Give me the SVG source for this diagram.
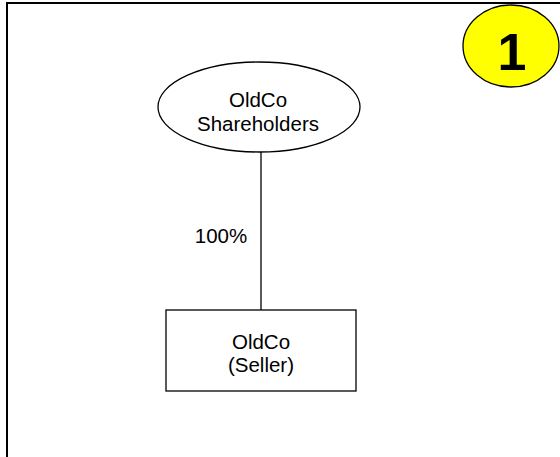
<svg xmlns="http://www.w3.org/2000/svg" width="560" height="457" viewBox="0 0 560 457">
<style>
.t{font-family:"Liberation Sans",Arial,sans-serif;font-size:20.5px;fill:#000;text-anchor:middle}
.s{fill:#fff;stroke:#000;stroke-width:1.3}
</style>
<rect x="0" y="0" width="560" height="457" fill="#fff"/>
<path d="M7,460 V3 H562" fill="none" stroke="#000" stroke-width="2"/>
<g id="badge">
<ellipse cx="511" cy="46" rx="48" ry="41" fill="#ffff00" stroke="#000" stroke-width="1.3"/>
<text x="512" y="70" style="font-family:'Liberation Sans',Arial,sans-serif;font-size:52px;font-weight:bold;text-anchor:middle">1</text>
</g>
<g id="connectors">
<line x1="261" y1="152" x2="261" y2="310" stroke="#000" stroke-width="1.3"/>
<text class="t" x="221" y="243">100%</text>
</g>
<g id="shareholders">
<ellipse class="s" cx="259" cy="107" rx="101" ry="45"/>
<text class="t" x="258" y="107">OldCo</text>
<text class="t" x="258" y="131">Shareholders</text>
</g>
<g id="oldco">
<rect class="s" x="166" y="310" width="190" height="81"/>
<text class="t" x="261" y="349">OldCo</text>
<text class="t" x="261" y="372">(Seller)</text>
</g>
</svg>
